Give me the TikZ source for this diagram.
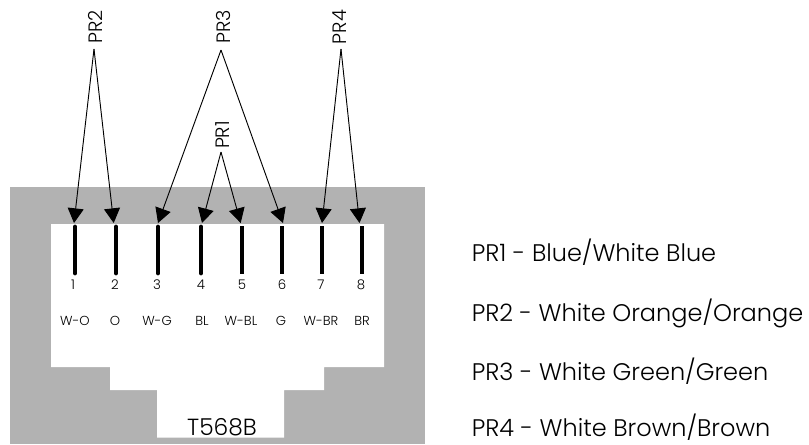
\documentclass[tikz,border=0pt]{standalone}
\usepackage{fontspec}
\setmainfont{Poppins Light}
\usetikzlibrary{arrows.meta}
\definecolor{shell}{RGB}{178,178,178}
\tikzset{
  arrowline/.style={draw=black,line width=0.7pt,-{Triangle[length=11pt,width=12pt]}},
  pinbar/.style={draw=black,line width=3.6pt},
  roundbar/.style={pinbar,line cap=round},
  pinnum/.style={font=\fontsize{10}{12}\selectfont,inner sep=0pt},
  pinname/.style={font=\fontsize{9.8}{11}\selectfont,inner sep=0pt},
  prlabel/.style={font=\fontsize{14.5}{17}\selectfont,rotate=90,inner sep=0pt},
  legend/.style={font=\fontsize{18}{21}\selectfont,anchor=base west,inner sep=0pt},
}
\begin{document}
\begin{tikzpicture}[x=0.75pt,y=-0.75pt]
\useasboundingbox (0,0) rectangle (809,444);
\fill[shell] (9.5,187) rectangle (425,444);
\fill[white] (51,224) -- (384,224) -- (384,367) -- (324,367) -- (324,390) -- (284,390) -- (284,437.5) -- (157,437.5) -- (157,390) -- (110,390) -- (110,367) -- (51,367) -- cycle;
% pins
\foreach \n/\x/\nx/\lab/\lx in {1/75/73/W-O/75,2/116/115/O/115,3/158/157/W-G/157,4/201/201/BL/202}{
  \coordinate (pt\n) at (\x,227);
  \coordinate (pb\n) at (\x,273);
  \draw[roundbar] (pt\n) -- (pb\n);
  \node[pinnum] (num\n) at (\nx,285) {\n};
  \node[pinname] (name\n) at (\lx,320.5) {\lab};
}
\foreach \n/\x/\nx/\lab/\lx in {5/242/242/W-BL/241,6/282/282/G/281,7/322/321/W-BR/321,8/362/361/BR/362}{
  \coordinate (pt\n) at (\x,226);
  \coordinate (pb\n) at (\x,274);
  \draw[pinbar] (pt\n) -- (pb\n);
  \node[pinnum] (num\n) at (\nx,285) {\n};
  \node[pinname] (name\n) at (\lx,320.5) {\lab};
}
\node[font=\fontsize{17.5}{21}\selectfont,inner sep=0pt] (std) at (222,427) {T568B};
% pair labels
\node[prlabel] (pr2) at (95.5,27) {PR2};
\node[prlabel] (pr3) at (223,27) {PR3};
\node[prlabel] (pr4) at (340,27) {PR4};
\node[prlabel] (pr1) at (222.5,135) {PR1};
\coordinate (a2) at (94,49); \coordinate (a3) at (221,50); \coordinate (a4) at (341,49); \coordinate (a1) at (221,152);
\coordinate (t1) at (74,223); \coordinate (t2) at (113.7,223); \coordinate (t3) at (158,223);
\coordinate (t4) at (202,223); \coordinate (t5) at (240.7,223); \coordinate (t6) at (283,223);
\coordinate (t7) at (322,223); \coordinate (t8) at (359.5,223);
\draw[arrowline] (a2) -- (t1);
\draw[arrowline] (a2) -- (t2);
\draw[arrowline] (a3) -- (t3);
\draw[arrowline] (a3) -- (t6);
\draw[arrowline] (a1) -- (t4);
\draw[arrowline] (a1) -- (t5);
\draw[arrowline] (a4) -- (t7);
\draw[arrowline] (a4) -- (t8);
% legend
\node[legend] (l1) at (471.5,261) {PR1 - Blue/White Blue};
\node[legend] (l2) at (471.5,321) {PR2 - White Orange/Orange};
\node[legend] (l3) at (471.5,380) {PR3 - White Green/Green};
\node[legend] (l4) at (471.5,436.5) {PR4 - White Brown/Brown};
\end{tikzpicture}
\end{document}
